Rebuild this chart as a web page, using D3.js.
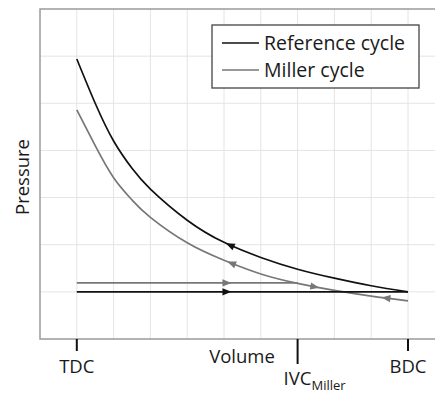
<!DOCTYPE html>
<html lang="en">
<head>
<meta charset="UTF-8">
<title>Miller cycle p-V</title>
<script src="https://cdn.jsdelivr.net/npm/d3@7"></script>
<style>
  body { margin: 0; background: #fff; }
  text { font-family: "Open Sans", sans-serif; fill: #1a1a1a; }
</style>
</head>
<body>
<script>
  // values (volume in grid units, pressure in grid units)
  const volume = [1, 1.5, 2, 2.5, 3, 4, 5, 6, 7, 8, 9, 10]
  const refPressure = [5.94, 5.0, 4.2, 3.62, 3.18, 2.52, 2.05, 1.73, 1.48, 1.29, 1.13, 1.00]
  const millerPressure = [4.86, 4.1, 3.42, 2.95, 2.58, 2.04, 1.67, 1.38, 1.18, 1.03, 0.91, 0.81]
  const refIntake = 1.0
  const millerIntake = 1.19
  const tickVol = [1, 7, 10]
  const tickNames = ['TDC', 'IVC', 'BDC']
  const tickSubs = ['', 'Miller', '']
  const legendNames = ['Reference cycle', 'Miller cycle']
  // arrows: which line, volume where it sits, direction (+1 towards BDC)
  const arrowLine = ['refIn', 'millerIn', 'ref', 'miller', 'miller', 'miller']
  const arrowVol = [5.08, 5.08, 5.16, 5.2, 7.47, 9.4]
  const arrowDir = [1, 1, -1, -1, 1, -1]

  const W = 435, H = 394
  const m = { top: 9, left: 40, bottom: 339 }
  const x = d3.scaleLinear().domain([0, 11]).range([m.left, m.left + 11 * 36.8])
  const y = d3.scaleLinear().domain([0, 7]).range([m.bottom, m.top])

  const svg = d3.select('body').append('svg')
    .attr('width', W).attr('height', H)

  // grid
  svg.append('g').selectAll('line')
    .data(d3.range(1, 11))
    .enter().append('line')
    .attr('x1', d => x(d)).attr('x2', d => x(d))
    .attr('y1', m.top).attr('y2', m.bottom)
    .attr('stroke', '#e4e4e4').attr('stroke-width', 1)
  svg.append('g').selectAll('line')
    .data(d3.range(1, 7))
    .enter().append('line')
    .attr('x1', m.left).attr('x2', W)
    .attr('y1', d => y(d)).attr('y2', d => y(d))
    .attr('stroke', '#e4e4e4').attr('stroke-width', 1)

  // frame: left, top, bottom
  svg.append('path')
    .attr('d', `M${W},${m.top}H${m.left}V${m.bottom}H${W}`)
    .attr('fill', 'none').attr('stroke', '#9a9a9a').attr('stroke-width', 1.5)

  const line = d3.line().x(d => x(d[0])).y(d => y(d[1])).curve(d3.curveNatural)
  const lines = {
    ref: { pts: d3.zip(volume, refPressure), color: '#111' },
    miller: { pts: d3.zip(volume, millerPressure), color: '#777' },
    refIn: { pts: [[tickVol[0], refIntake], [tickVol[2], refIntake]], color: '#111' },
    millerIn: { pts: [[tickVol[0], millerIntake], [tickVol[1], millerIntake]], color: '#777' }
  }

  const drawOrder = ['millerIn', 'miller', 'refIn', 'ref']
  drawOrder.forEach(k => {
    lines[k].node = svg.append('path')
      .attr('d', line(lines[k].pts))
      .attr('fill', 'none')
      .attr('stroke', lines[k].color)
      .attr('stroke-width', 1.7)
      .node()
  })

  // find point on a path at a given x pixel
  function pointAtX(node, px) {
    let lo = 0, hi = node.getTotalLength()
    for (let i = 0; i < 40; i++) {
      const mid = (lo + hi) / 2
      if (node.getPointAtLength(mid).x < px) lo = mid
      else hi = mid
    }
    return lo
  }

  arrowLine.forEach((k, i) => {
    const node = lines[k].node
    const L = pointAtX(node, x(arrowVol[i]))
    const p = node.getPointAtLength(L)
    const a = node.getPointAtLength(Math.max(0, L - 2))
    const b = node.getPointAtLength(Math.min(node.getTotalLength(), L + 2))
    let ang = Math.atan2(b.y - a.y, b.x - a.x) * 180 / Math.PI
    if (arrowDir[i] < 0) ang += 180
    svg.append('path')
      .attr('d', 'M4.5,0L-4.5,-3.6L-4.5,3.6Z')
      .attr('transform', `translate(${p.x},${p.y}) rotate(${ang})`)
      .attr('fill', lines[k].color)
  })

  // x ticks and labels
  const tickLen = [12, 25, 12]
  svg.append('g').selectAll('line')
    .data(tickVol)
    .enter().append('line')
    .attr('x1', d => x(d)).attr('x2', d => x(d))
    .attr('y1', m.bottom).attr('y2', (d, i) => m.bottom + tickLen[i])
    .attr('stroke', '#111').attr('stroke-width', 2)

  const labY = [373, 385, 373]
  tickVol.forEach((v, i) => {
    const t = svg.append('text')
      .attr('x', x(v)).attr('y', labY[i])
      .attr('font-size', 18.5)
    if (tickSubs[i]) {
      t.attr('text-anchor', 'start').attr('x', x(v) - 14)
      t.append('tspan').text(tickNames[i])
      t.append('tspan').attr('font-size', 13).attr('dy', 5).text(tickSubs[i])
    } else {
      t.attr('text-anchor', 'middle').text(tickNames[i])
    }
  })

  svg.append('text')
    .attr('x', x(5.49)).attr('y', 363)
    .attr('text-anchor', 'middle').attr('font-size', 18.5)
    .text('Volume')

  svg.append('text')
    .attr('transform', `translate(29,${(m.top + m.bottom) / 2 + 3}) rotate(-90)`)
    .attr('text-anchor', 'middle').attr('font-size', 18.5)
    .text('Pressure')

  // legend
  const lg = svg.append('g')
  lg.append('rect')
    .attr('x', 212).attr('y', 25).attr('width', 207).attr('height', 63)
    .attr('fill', '#fff').attr('stroke', '#444').attr('stroke-width', 1.3)
  const legColors = [lines.ref.color, lines.miller.color]
  legendNames.forEach((n, i) => {
    const ly = 43 + i * 27
    lg.append('line')
      .attr('x1', 222).attr('x2', 259).attr('y1', ly).attr('y2', ly)
      .attr('stroke', legColors[i]).attr('stroke-width', 1.6)
    lg.append('text')
      .attr('x', 264).attr('y', ly + 7)
      .attr('font-size', 19.5)
      .text(n)
  })
</script>
</body>
</html>
